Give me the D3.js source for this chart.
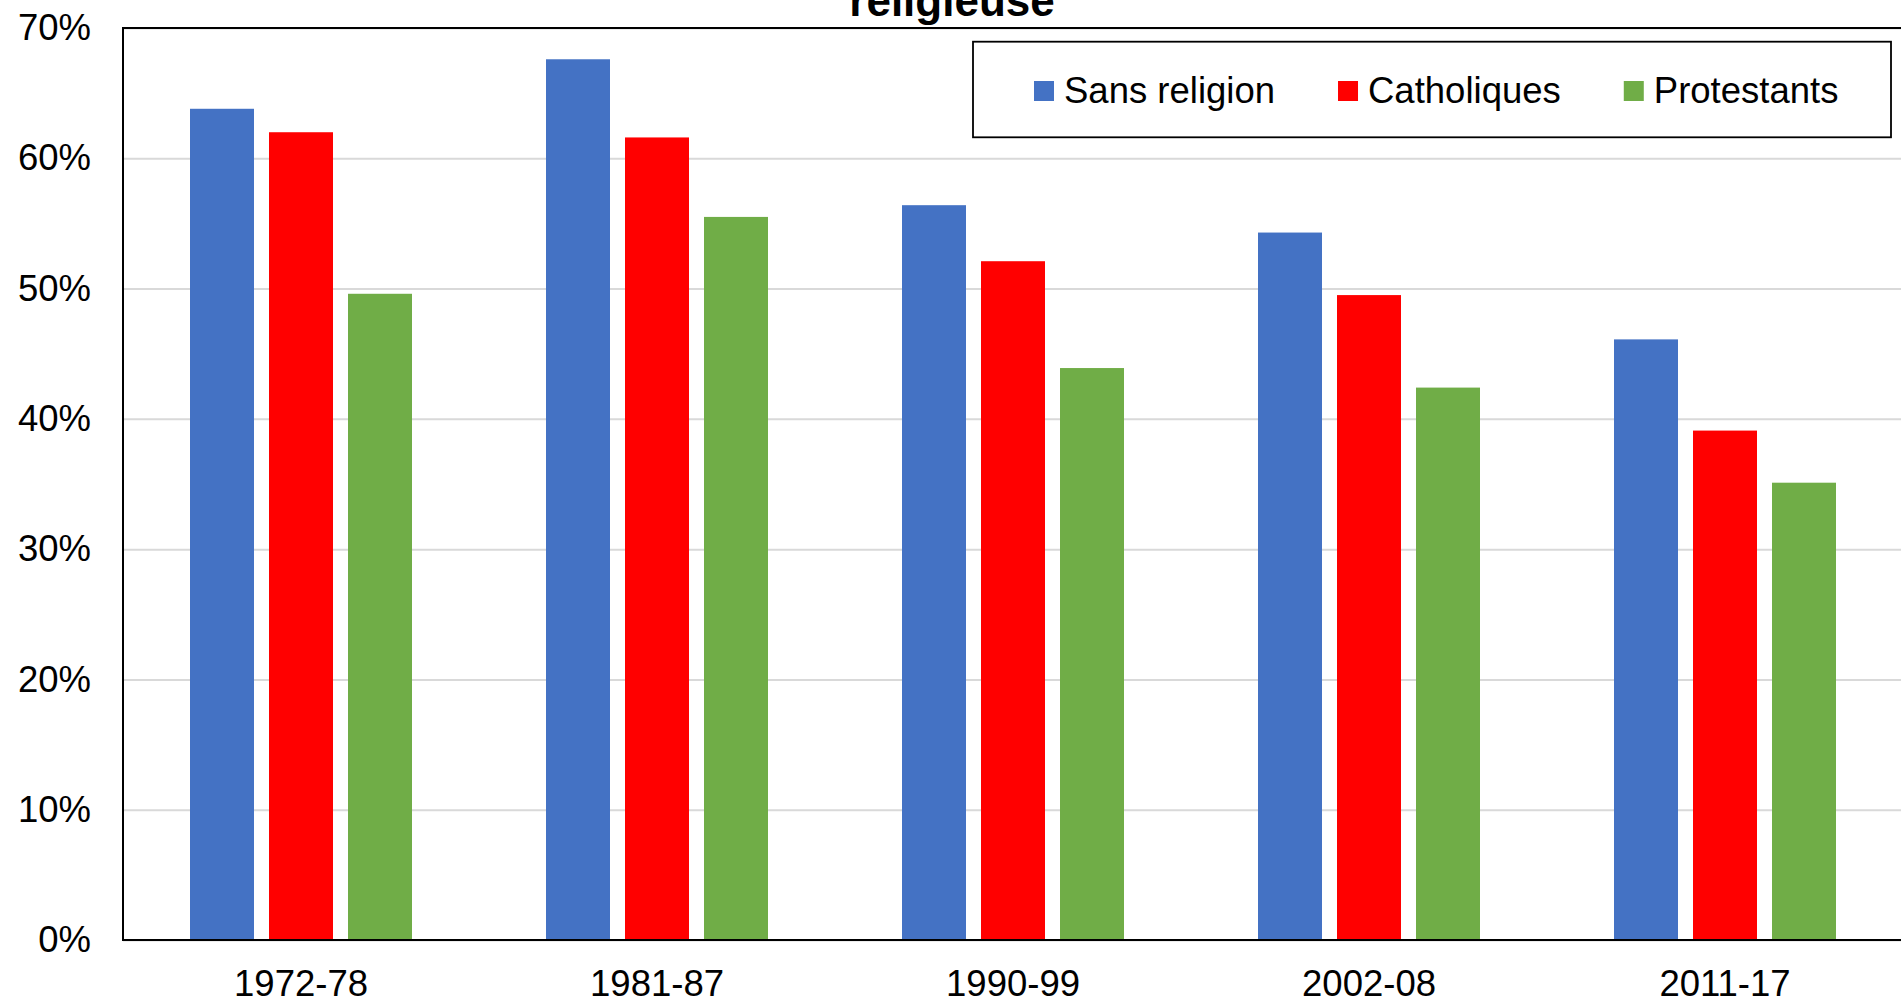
<!DOCTYPE html>
<html>
<head>
<meta charset="utf-8">
<script src="https://cdn.jsdelivr.net/npm/d3@7"></script>
<style>
  html, body { margin: 0; padding: 0; background: #fff; overflow: hidden; }
  svg { display: block; font-family: "Liberation Sans", Arial, sans-serif; }
</style>
</head>
<body>
<svg id="chart" width="1901" height="1003"></svg>
<script>
// ---- data ----
const categories = ["1972-78", "1981-87", "1990-99", "2002-08", "2011-17"];
const seriesNames = ["Sans religion", "Catholiques", "Protestants"];
const sansReligion = [63.8, 67.6, 56.4, 54.3, 46.1];
const catholiques = [62.0, 61.6, 52.1, 49.5, 39.1];
const protestants = [49.6, 55.5, 43.9, 42.4, 35.1];
const yTicks = [0, 10, 20, 30, 40, 50, 60, 70];
const titleText = "religieuse";

const seriesValues = [sansReligion, catholiques, protestants];
const colors = ["#4472C4", "#FF0000", "#70AD47"];

// ---- layout ----
const svg = d3.select("#chart");
const plot = { left: 123, top: 28, bottom: 940, step: 356 };
const plotRight = plot.left + plot.step * categories.length;

const x0 = d3.scaleBand().domain(categories).range([plot.left, plotRight]).padding(0);
const x1 = d3.scaleBand().domain(seriesNames).range([67, 289]).paddingInner(0.19).paddingOuter(0);
const y = d3.scaleLinear().domain([0, 70]).range([plot.bottom, plot.top]);

// gridlines
const grid = svg.append("g").attr("transform", `translate(${plot.left},0)`)
  .call(d3.axisLeft(y).tickValues(yTicks).tickSize(-(plotRight - plot.left)).tickFormat(""));
grid.select(".domain").remove();
grid.selectAll("line").attr("stroke", "#d9d9d9").attr("stroke-width", 2);

// bars
const groups = svg.append("g").selectAll("g")
  .data(categories).join("g")
  .attr("transform", d => `translate(${x0(d)},0)`);
groups.selectAll("rect")
  .data((c, ci) => seriesNames.map((s, si) => ({ s, si, v: seriesValues[si][ci] })))
  .join("rect")
  .attr("x", d => x1(d.s))
  .attr("width", x1.bandwidth())
  .attr("y", d => y(d.v))
  .attr("height", d => y(0) - y(d.v))
  .attr("fill", d => colors[d.si]);

// frame (left, top, bottom)
svg.append("path")
  .attr("d", `M${plotRight + 5},${plot.top} H${plot.left} V${plot.bottom} H${plotRight + 5}`)
  .attr("fill", "none").attr("stroke", "#000").attr("stroke-width", 2);

// y axis labels
const yAxis = svg.append("g").attr("transform", `translate(${plot.left},0)`)
  .call(d3.axisLeft(y).tickValues(yTicks).tickSize(0).tickPadding(32).tickFormat(d => d + "%"));
yAxis.select(".domain").remove();
yAxis.selectAll("text").attr("font-size", 36.5).attr("fill", "#000")
  .attr("font-family", "Liberation Sans, Arial, sans-serif");

// x axis labels
const xAxis = svg.append("g").attr("transform", `translate(0,${plot.bottom})`)
  .call(d3.axisBottom(x0).tickSize(0).tickPadding(30.5));
xAxis.select(".domain").remove();
xAxis.selectAll("text").attr("font-size", 36.5).attr("fill", "#000")
  .attr("font-family", "Liberation Sans, Arial, sans-serif");

// title (partially cut at the top)
svg.append("text")
  .attr("x", 952).attr("y", 16)
  .attr("text-anchor", "middle")
  .attr("font-size", 44).attr("font-weight", "bold").attr("fill", "#000")
  .text(titleText);

// legend
const lg = { x: 973, y: 41.7, w: 918, h: 95.6 };
svg.append("rect").attr("x", lg.x).attr("y", lg.y).attr("width", lg.w).attr("height", lg.h)
  .attr("fill", "#fff").attr("stroke", "#000").attr("stroke-width", 1.8);
let lx = lg.x + 61;
seriesNames.forEach((name, i) => {
  svg.append("rect").attr("x", lx).attr("y", 81).attr("width", 20).attr("height", 20)
    .attr("fill", colors[i]);
  const t = svg.append("text").attr("x", lx + 30).attr("y", 102.5)
    .attr("font-size", 36.5).attr("fill", "#000").text(name);
  lx += 30 + t.node().getComputedTextLength() + 63;
});
</script>
</body>
</html>
